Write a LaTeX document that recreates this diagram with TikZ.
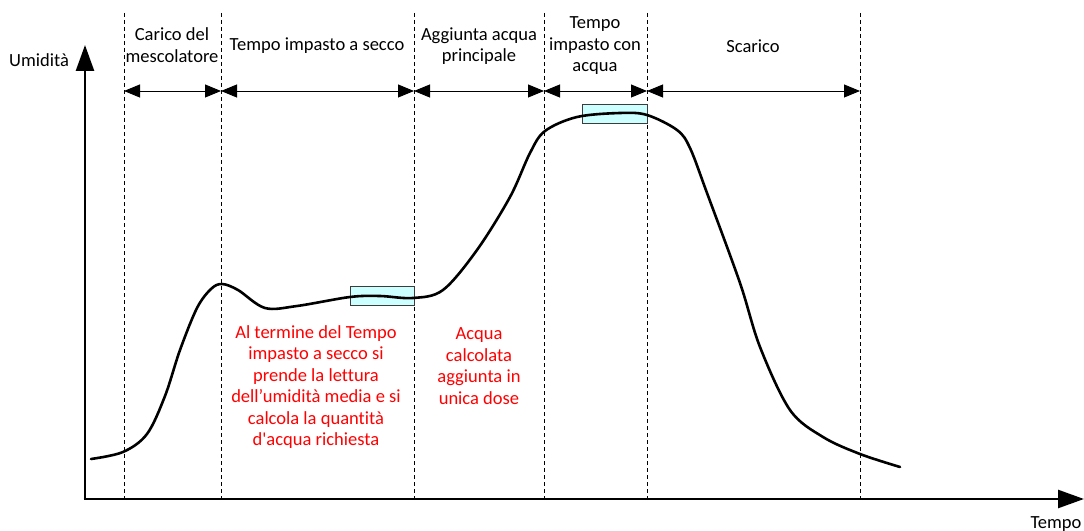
\documentclass[tikz,border=0pt]{standalone}
\usepackage{fontspec}
\setmainfont{Carlito}[Ligatures={NoCommon,TeXOff}]
\usetikzlibrary{arrows.meta}
\definecolor{boxfill}{RGB}{204,255,255}
\definecolor{boxdraw}{RGB}{60,60,60}
\tikzset{
  lbl/.style={align=center, font=\fontsize{18.6}{21.6}\selectfont, inner sep=0pt},
  redlbl/.style={lbl, text=red},
  divider/.style={line width=0.8bp, dash pattern=on 4bp off 3bp},
  span/.style={line width=0.9bp, {Triangle[length=16bp,width=13bp]}-{Triangle[length=16bp,width=13bp]}},
  axis/.style={line width=2.6bp, -{Triangle[length=26bp,width=18bp]}},
  readbox/.style={draw=boxdraw, fill=boxfill, line width=0.8bp},
  curve/.style={line width=2.6bp, line cap=round, line join=round}
}
\begin{document}
\begin{tikzpicture}[x=1bp,y=-1bp]
\useasboundingbox (0,0) rectangle (1084,531);
% divider coordinates
\coordinate (atop) at (124,13); \coordinate (abot) at (124,499); \coordinate (aarr) at (124,91);
\coordinate (btop) at (221,13); \coordinate (bbot) at (221,499); \coordinate (barr) at (221,91);
\coordinate (ctop) at (414,13); \coordinate (cbot) at (414,499); \coordinate (carr) at (414,91);
\coordinate (dtop) at (544,13); \coordinate (dbot) at (544,499); \coordinate (darr) at (544,91);
\coordinate (etop) at (647,13); \coordinate (ebot) at (647,499); \coordinate (earr) at (647,91);
\coordinate (ftop) at (860,13); \coordinate (fbot) at (860,499); \coordinate (farr) at (860,91);
\draw[divider] (atop) -- (abot);
\draw[divider] (btop) -- (bbot);
\draw[divider] (ctop) -- (cbot);
\draw[divider] (dtop) -- (dbot);
\draw[divider] (etop) -- (ebot);
\draw[divider] (ftop) -- (fbot);
% span arrows
\draw[span] (aarr) -- (barr);
\draw[span] (barr) -- (carr);
\draw[span] (carr) -- (darr);
\draw[span] (darr) -- (earr);
\draw[span] (earr) -- (farr);
% reading boxes
\node[readbox, minimum width=64bp, minimum height=19bp, inner sep=0pt] (box1) at (382,295.5) {};
\node[readbox, minimum width=65bp, minimum height=19bp, inner sep=0pt] (box2) at (614.5,114) {};
% axes
\coordinate (origin) at (85,499);
\coordinate (origin2) at (83.7,499);
\coordinate (ytip) at (85,45);
\coordinate (xtip) at (1084,499);
\draw[axis] (origin) -- (ytip);
\draw[axis] (origin2) -- (xtip);
% curve
\draw[curve] plot[smooth, tension=0.55] coordinates {
 (91,459) (123,452) (147,434) (165,396) (180,350) (197,308) (211,289) (222,284)
 (238,290) (265,308) (297,306) (350,297) (380,296) (413,298) (443,290) (477,250)
 (510,197) (530,153) (545,131) (577,117) (620,113) (647,115) (677,130) (690,148)
 (707,193) (740,283) (760,347) (790,410) (823,437) (860,454) (900,467)};
% header labels
\node[lbl] (h1) at (172,45) {Carico del\\mescolatore};
\node[lbl] (h2) at (317,46) {Tempo impasto a secco};
\node[lbl] (h3) at (479,46) {Aggiunta acqua\\principale};
\node[lbl] (h4) at (595,46) {Tempo\\impasto con\\acqua};
\node[lbl] (h5) at (753,46) {Scarico};
% axis labels
\node[lbl] (ylab) at (39,60) {Umidità};
\node[lbl] (xlab) at (1056,524) {Tempo};
% red notes
\node[redlbl] (note1) at (316,387) {Al termine del Tempo\\impasto a secco si\\prende la lettura\\dell’umidità media e si\\calcola la quantità\\d'acqua richiesta};
\node[redlbl] (note2) at (479,366) {Acqua\\calcolata\\aggiunta in\\unica dose};
\end{tikzpicture}
\end{document}
